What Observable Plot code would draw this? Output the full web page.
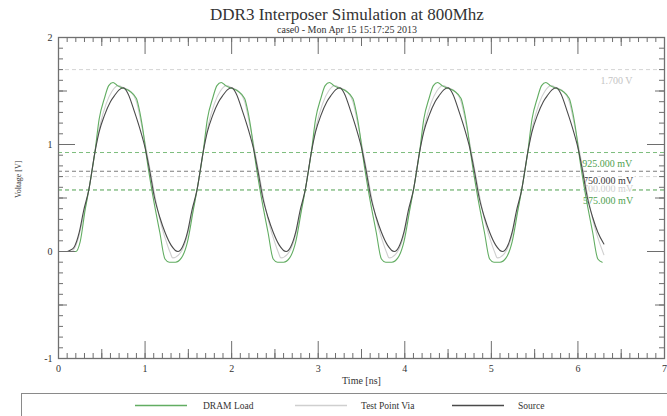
<!DOCTYPE html>
<html>
<head>
<meta charset="utf-8">
<script src="https://cdn.jsdelivr.net/npm/d3@7"></script>
<script src="https://cdn.jsdelivr.net/npm/@observablehq/plot@0.6"></script>
<style>
  body { margin: 0; background: #fff; }
  #wrap { position: relative; width: 667px; height: 416px; overflow: hidden; font-family: "Liberation Serif", "DejaVu Serif", serif; color: #333; }
  #chart { position: absolute; left: 0; top: 0; }
  .title { position: absolute; left: 0; width: 694px; text-align: center; white-space: nowrap; }
  #t1 { top: 6px; font-size: 17px; line-height: 17px; color: #333; }
  #t2 { top: 25px; font-size: 10px; line-height: 10px; color: #333; }
  #legend { position: absolute; left: 21px; top: 393px; width: 700px; height: 60px; border: 1.5px solid #8a8a8a; box-sizing: border-box; background: #fff; }
  #legend svg { position: absolute; left: 0; top: 0; }
  .lt { position: absolute; font-size: 9.5px; line-height: 10px; color: #333; white-space: nowrap; }
</style>
</head>
<body>
<div id="wrap">
  <div id="chart"></div>
  <div class="title" id="t1">DDR3 Interposer Simulation at 800Mhz</div>
  <div class="title" id="t2">case0 - Mon Apr 15 15:17:25 2013</div>
  <div id="legend"></div>
</div>
<script>
// ---- Data (time in ns, voltage in V) ----
const seriesNames = ["DRAM Load", "Test Point Via", "Source"];

const dramLoad = [
  [0,0],[0.20,0],[0.25,0.09],[0.31,0.40],[0.35,0.575],[0.42,0.925],[0.47,1.24],[0.53,1.43],[0.58,1.55],[0.63,1.58],[0.68,1.55],[0.73,1.53],[0.82,1.50],[0.90,1.43],[0.94,1.30],[0.98,1.11],[1.02,0.87],[1.09,0.52],[1.17,0.18],[1.23,-0.07],[1.28,-0.10],[1.35,-0.10],
  [1.42,-0.06],[1.49,0.09],[1.56,0.40],[1.60,0.575],[1.67,0.925],[1.72,1.24],[1.78,1.43],[1.83,1.55],[1.88,1.58],[1.93,1.55],[1.98,1.53],[2.07,1.50],[2.15,1.43],[2.19,1.30],[2.23,1.11],[2.27,0.87],[2.34,0.52],[2.42,0.18],[2.48,-0.07],[2.53,-0.10],[2.60,-0.10],
  [2.67,-0.06],[2.74,0.09],[2.81,0.40],[2.85,0.575],[2.92,0.925],[2.97,1.24],[3.03,1.43],[3.08,1.55],[3.13,1.58],[3.18,1.55],[3.23,1.53],[3.32,1.50],[3.40,1.43],[3.44,1.30],[3.48,1.11],[3.52,0.87],[3.59,0.52],[3.67,0.18],[3.73,-0.07],[3.78,-0.10],[3.85,-0.10],
  [3.92,-0.06],[3.99,0.09],[4.06,0.40],[4.10,0.575],[4.17,0.925],[4.22,1.24],[4.28,1.43],[4.33,1.55],[4.38,1.58],[4.43,1.55],[4.48,1.53],[4.57,1.50],[4.65,1.43],[4.69,1.30],[4.73,1.11],[4.77,0.87],[4.84,0.52],[4.92,0.18],[4.98,-0.07],[5.03,-0.10],[5.10,-0.10],
  [5.17,-0.06],[5.24,0.09],[5.31,0.40],[5.35,0.575],[5.42,0.925],[5.47,1.24],[5.53,1.43],[5.58,1.55],[5.63,1.58],[5.68,1.55],[5.73,1.53],[5.82,1.50],[5.90,1.43],[5.94,1.30],[5.98,1.11],[6.02,0.87],[6.09,0.52],[6.17,0.18],[6.23,-0.07],[6.28,-0.10]
];

const testPointVia = [
  [0,0],[0.15,0],[0.22,0.10],[0.28,0.30],[0.35,0.575],[0.42,0.925],[0.48,1.18],[0.55,1.38],[0.62,1.50],[0.69,1.55],[0.75,1.53],[0.84,1.49],[0.90,1.40],[0.96,1.18],[1.02,0.93],[1.07,0.71],[1.13,0.45],[1.19,0.24],[1.25,0.08],[1.29,-0.01],
  [1.32,-0.06],[1.40,-0.02],[1.47,0.10],[1.53,0.30],[1.60,0.575],[1.67,0.925],[1.73,1.18],[1.80,1.38],[1.87,1.50],[1.94,1.55],[2.00,1.53],[2.09,1.49],[2.15,1.40],[2.21,1.18],[2.27,0.93],[2.32,0.71],[2.38,0.45],[2.44,0.24],[2.50,0.08],[2.54,-0.01],
  [2.57,-0.06],[2.65,-0.02],[2.72,0.10],[2.78,0.30],[2.85,0.575],[2.92,0.925],[2.98,1.18],[3.05,1.38],[3.12,1.50],[3.19,1.55],[3.25,1.53],[3.34,1.49],[3.40,1.40],[3.46,1.18],[3.52,0.93],[3.57,0.71],[3.63,0.45],[3.69,0.24],[3.75,0.08],[3.79,-0.01],
  [3.82,-0.06],[3.90,-0.02],[3.97,0.10],[4.03,0.30],[4.10,0.575],[4.17,0.925],[4.23,1.18],[4.30,1.38],[4.37,1.50],[4.44,1.55],[4.50,1.53],[4.59,1.49],[4.65,1.40],[4.71,1.18],[4.77,0.93],[4.82,0.71],[4.88,0.45],[4.94,0.24],[5.00,0.08],[5.04,-0.01],
  [5.07,-0.06],[5.15,-0.02],[5.22,0.10],[5.28,0.30],[5.35,0.575],[5.42,0.925],[5.48,1.18],[5.55,1.38],[5.62,1.50],[5.69,1.55],[5.75,1.53],[5.84,1.49],[5.90,1.40],[5.96,1.18],[6.02,0.93],[6.07,0.71],[6.13,0.45],[6.19,0.24],[6.25,0.08],[6.30,-0.03]
];

const source = [
  [0,0],[0.10,0],[0.13,0.01],[0.18,0.04],[0.24,0.18],[0.29,0.38],[0.35,0.575],[0.42,0.925],[0.47,1.12],[0.53,1.27],[0.60,1.40],[0.65,1.46],[0.70,1.51],[0.75,1.53],[0.80,1.48],[0.88,1.30],[0.95,1.12],[1.00,0.97],[1.05,0.77],[1.11,0.50],[1.17,0.32],[1.23,0.18],[1.30,0.06],
  [1.38,0.0],[1.43,0.04],[1.49,0.18],[1.54,0.38],[1.60,0.575],[1.67,0.925],[1.72,1.12],[1.78,1.27],[1.85,1.40],[1.90,1.46],[1.95,1.51],[2.00,1.53],[2.05,1.48],[2.13,1.30],[2.20,1.12],[2.25,0.97],[2.30,0.77],[2.36,0.50],[2.42,0.32],[2.48,0.18],[2.55,0.06],
  [2.63,0.0],[2.68,0.04],[2.74,0.18],[2.79,0.38],[2.85,0.575],[2.92,0.925],[2.97,1.12],[3.03,1.27],[3.10,1.40],[3.15,1.46],[3.20,1.51],[3.25,1.53],[3.30,1.48],[3.38,1.30],[3.45,1.12],[3.50,0.97],[3.55,0.77],[3.61,0.50],[3.67,0.32],[3.73,0.18],[3.80,0.06],
  [3.88,0.0],[3.93,0.04],[3.99,0.18],[4.04,0.38],[4.10,0.575],[4.17,0.925],[4.22,1.12],[4.28,1.27],[4.35,1.40],[4.40,1.46],[4.45,1.51],[4.50,1.53],[4.55,1.48],[4.63,1.30],[4.70,1.12],[4.75,0.97],[4.80,0.77],[4.86,0.50],[4.92,0.32],[4.98,0.18],[5.05,0.06],
  [5.13,0.0],[5.18,0.04],[5.24,0.18],[5.29,0.38],[5.35,0.575],[5.42,0.925],[5.47,1.12],[5.53,1.27],[5.60,1.40],[5.65,1.46],[5.70,1.51],[5.75,1.53],[5.80,1.48],[5.88,1.30],[5.95,1.12],[6.00,0.97],[6.05,0.77],[6.11,0.50],[6.17,0.32],[6.23,0.18],[6.30,0.07]
];

// Reference (threshold) levels and their labels
const refLevels = [1.7, 0.925, 0.7, 0.75, 0.575];
const refLabels = ["1.700 V", "925.000 mV", "700.000 mV", "750.000 mV", "575.000 mV"];
const refLabelX = [6.26, 6.05, 6.06, 6.06, 6.06];

// Axis tick labels
const xTickLabels = [0, 1, 2, 3, 4, 5, 6, 7];
const yTickLabels = [-1, 0, 1, 2];

// ---- Styles ----
const seriesColors = ["#62ad62", "#cfcfcf", "#4a4a4a"];
const refColors = ["#d4d4d4", "#7dbd7d", "#d4d4d4", "#7c7c7c", "#4f9f4f"];
const refTextColors = ["#c4c4c4", "#4f9f4f", "#d0d0d0", "#3a3a3a", "#4f9f4f"];
const refTextDy = [11, 11, 12, 10, 11];
const tickColor = "#6e6e6e";

const W = 667, H = 416, mL = 58, mR = 3, mT = 37, mB = 58;
const plotW = W - mL - mR, plotH = H - mT - mB;

const refs = refLevels.map((v, i) => ({v, label: refLabels[i], x: refLabelX[i], color: refColors[i], tcolor: refTextColors[i], dy: refTextDy[i]}));

const yMinor = d3.range(-10, 21).map(i => i / 10);
const yHalf = [-0.5, 0.5, 1.5];
const yMajor = [0, 1];
const xMinor = d3.range(0, 71).map(i => i / 10);
const xHalf = [0.5, 1.5, 2.5, 3.5, 4.5, 5.5, 6.5];
const xMajor = [1, 2, 3, 4, 5, 6];

function yTicks(vals, len) {
  return [
    Plot.tickY(vals, {y: d => d, insetRight: plotW - len, stroke: tickColor, strokeWidth: 1}),
    Plot.tickY(vals, {y: d => d, insetLeft: plotW - len, stroke: tickColor, strokeWidth: 1})
  ];
}
function xTicks(vals, len) {
  return [
    Plot.tickX(vals, {x: d => d, insetTop: plotH - len, stroke: tickColor, strokeWidth: 1}),
    Plot.tickX(vals, {x: d => d, insetBottom: plotH - len, stroke: tickColor, strokeWidth: 1})
  ];
}

const labelMarks = refs.map(r => Plot.text([r], {x: "x", y: "v", text: "label", fill: r.tcolor, dy: r.dy, textAnchor: "start", fontSize: 10, stroke: "white", strokeWidth: 3, paintOrder: "stroke"}));

const chart = Plot.plot({
  width: W, height: H,
  marginLeft: mL, marginRight: mR, marginTop: mT, marginBottom: mB,
  style: {fontFamily: "'Liberation Serif', 'DejaVu Serif', serif", fontSize: "10px", color: "#333", background: "#fff"},
  x: {domain: [0, 7], ticks: xTickLabels, tickSize: 0, tickPadding: 6, tickFormat: d => `${d}`, label: null},
  y: {domain: [-1, 2], ticks: yTickLabels, tickSize: 0, tickPadding: 6, tickFormat: d => `${d}`, label: null},
  color: {type: "identity"},
  marks: [
    Plot.ruleY(refs, {y: "v", stroke: "color", strokeDasharray: "4,3", strokeWidth: 1}),
    ...labelMarks,
    Plot.line(testPointVia, {x: d => d[0], y: d => d[1], stroke: seriesColors[1], strokeWidth: 1.1, curve: "monotone-x"}),
    Plot.line(dramLoad, {x: d => d[0], y: d => d[1], stroke: seriesColors[0], strokeWidth: 1.1, curve: "monotone-x"}),
    Plot.line(source, {x: d => d[0], y: d => d[1], stroke: seriesColors[2], strokeWidth: 1.1, curve: "monotone-x"}),
    ...yTicks(yMinor, 5), ...yTicks(yHalf, 9), ...yTicks(yMajor, 17),
    ...xTicks(xMinor, 5), ...xTicks(xHalf, 9), ...xTicks(xMajor, 17),
    Plot.frame({stroke: "#707070", strokeWidth: 1.3}),
    Plot.text(["Time [ns]"], {frameAnchor: "bottom", dy: 25, fontSize: 10, fill: "#333"}),
    Plot.text(["Voltage [V]"], {frameAnchor: "left", dx: -40, rotate: -90, fontSize: 8, fill: "#333"})
  ]
});
document.getElementById("chart").appendChild(chart);

// ---- Legend ----
const legend = document.getElementById("legend");
const swX = [113, 273, 430];   // relative to legend box
const txX = [181, 339, 496];
const svgNS = "http://www.w3.org/2000/svg";
const lsvg = document.createElementNS(svgNS, "svg");
lsvg.setAttribute("width", "700");
lsvg.setAttribute("height", "30");
seriesNames.forEach((name, i) => {
  const ln = document.createElementNS(svgNS, "line");
  ln.setAttribute("x1", swX[i]);
  ln.setAttribute("x2", swX[i] + 52);
  ln.setAttribute("y1", 11.5);
  ln.setAttribute("y2", 11.5);
  ln.setAttribute("stroke", seriesColors[i]);
  ln.setAttribute("stroke-width", "1.3");
  lsvg.appendChild(ln);
  const t = document.createElement("div");
  t.className = "lt";
  t.style.left = txX[i] + "px";
  t.style.top = "7px";
  t.textContent = name;
  legend.appendChild(t);
});
legend.appendChild(lsvg);
</script>
</body>
</html>
